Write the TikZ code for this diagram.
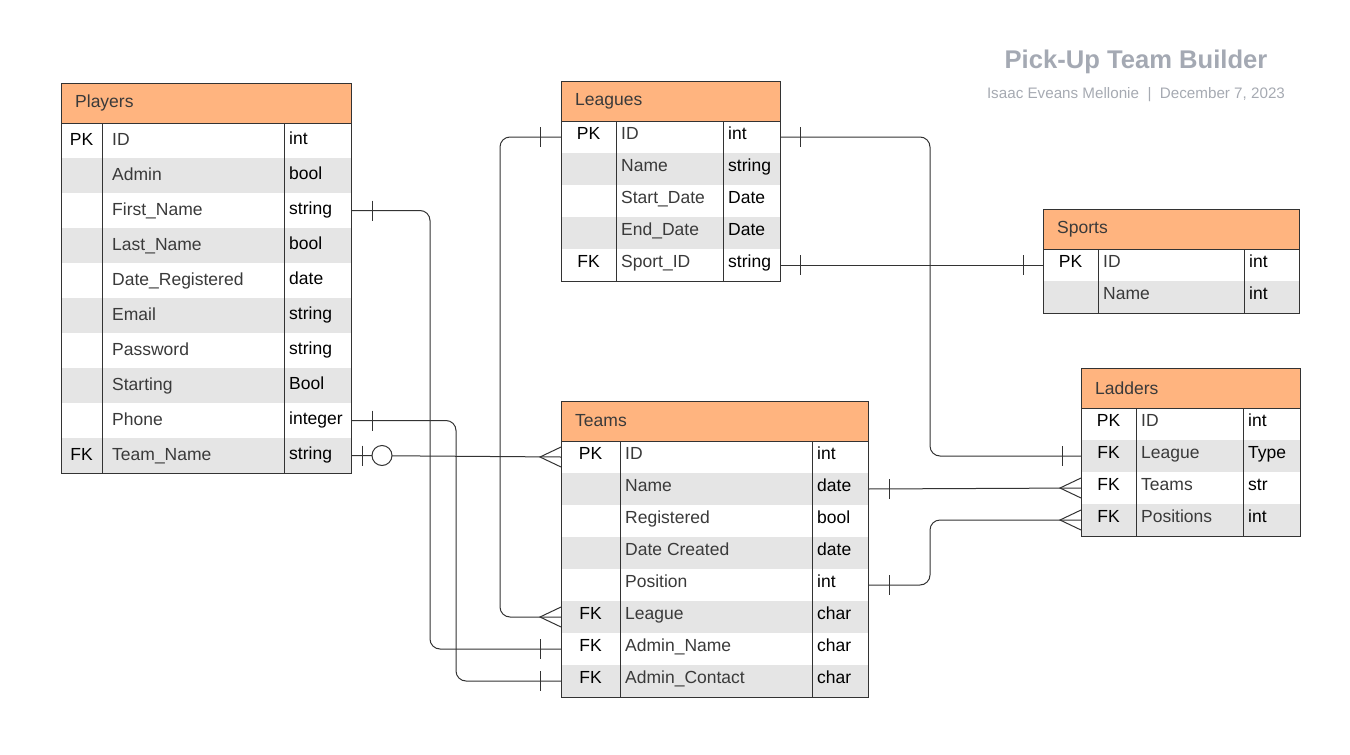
\documentclass[tikz,border=0pt]{standalone}
\usepackage{fontspec}
\setmainfont{Liberation Sans}
\usetikzlibrary{positioning}

\definecolor{hdrorange}{HTML}{FFB47F}
\definecolor{rowgray}{HTML}{E5E5E5}
\definecolor{titlegray}{HTML}{A4A9B3}
\definecolor{subgray}{HTML}{A6AAB2}
\definecolor{linegray}{HTML}{333333}
\definecolor{namegray}{HTML}{3A3A3A}

\tikzset{
  hdr/.style={rectangle, draw=linegray, line width=1pt, fill=hdrorange, anchor=north west, inner sep=0pt, outer sep=0pt},
  hdrtext/.style={anchor=west, text=namegray, inner sep=0pt, font=\fontsize{17.5}{20}\selectfont},
  row/.style={rectangle, anchor=north west, inner sep=0pt, outer sep=0pt, draw=none},
  cell/.style={inner sep=0pt, text height=13pt, text depth=3pt, font=\fontsize{17.5}{20}\selectfont},
  tbl/.style={draw=linegray, line width=1pt},
  conn/.style={draw=linegray, line width=1pt, rounded corners=10pt},
  onebar/.pic={\draw[linegray, line width=1pt] (0,-10) -- (0,10);},
  crowfoot/.pic={\draw[linegray, line width=1pt] (21,-10) -- (0,0) -- (21,10);},
  zeroring/.pic={\draw[linegray, line width=1pt, fill=white] (0,0) circle (10pt);}
}

\def\namepad{5}
\def\textlift{3}
\def\typelift{3}
% #1 name, #2 title, #3 x, #4 y, #5 key column, #6 type column, #7 width, #8 row height, #9 rows
\newcommand{\ertable}[9]{%
  \begin{scope}[shift={(#3,#4)}]
    \node[hdr, minimum width=#7, minimum height=40] (#1) at (0,0) {};
    \node[hdrtext] at (14,20) {#2};
    \foreach \k/\n/\t [count=\i] in {#9} {
      \ifodd\i \def\rf{white}\else \def\rf{rowgray}\fi
      \node[row, fill=\rf, minimum width=#7, minimum height=#8] (#1-\i) at (0,{40+(\i-1)*#8}) {};
      \node[cell] at ({#5/2},{40+(\i-0.5)*#8-\textlift}) {\k};
      \node[cell, anchor=west, text=namegray] at ({#5+\namepad},{40+(\i-0.5)*#8-\textlift}) {\n};
      \node[cell, anchor=west] at ({#6+5},{40+(\i-0.5)*#8-\typelift}) {\t};
      \xdef\nrows{\i}
    }
    \draw[tbl] (0,40) rectangle (#7,{40+\nrows*#8});
    \draw[tbl] (#5,40) -- (#5,{40+\nrows*#8});
    \draw[tbl] (#6,40) -- (#6,{40+\nrows*#8});
  \end{scope}}

\begin{document}
\begin{tikzpicture}[x=1pt, y=-1pt]
\useasboundingbox (0,0) rectangle (1350,755);

% Titolo
\node[font=\bfseries\fontsize{25.6}{30}\selectfont, text=titlegray] (title) at (1136,62) {Pick-Up Team Builder};
\node[font=\fontsize{15.2}{18}\selectfont, text=subgray] (byline) at (1136,95) {Isaac Eveans Mellonie\ \ |\ \ December 7, 2023};

% Tabella Players
\def\namepad{10}\def\textlift{0}\def\typelift{1.5}
\ertable{players}{Players}{61}{83}{41}{223}{290}{35}{PK/ID/int, /Admin/bool, /First\_Name/string, /Last\_Name/bool, /Date\_Registered/date, /Email/string, /Password/string, /Starting/Bool, /Phone/integer, FK/Team\_Name/string}
\def\namepad{5}\def\textlift{3}\def\typelift{3}

% Tabella Leagues
\ertable{leagues}{Leagues}{561}{81}{55}{162}{219}{32}{PK/ID/int, /Name/string, /Start\_Date/Date, /End\_Date/Date, FK/Sport\_ID/string}

% Tabella Sports
\ertable{sports}{Sports}{1043}{209}{55}{201}{256}{32}{PK/ID/int, /Name/int}

% Tabella Ladders
\ertable{ladders}{Ladders}{1081}{368}{55}{162}{219}{32}{PK/ID/int, FK/League/Type, FK/Teams/str, FK/Positions/int}

% Tabella Teams
\ertable{teams}{Teams}{561}{401}{59}{251}{307}{32}{PK/ID/int, /Name/date, /Registered/bool, /Date Created/date, /Position/int, FK/League/char, FK/Admin\_Name/char, FK/Admin\_Contact/char}

% Dorsali verticali
\coordinate (trunkA) at (430,0);
\coordinate (trunkB) at (456,0);
\coordinate (trunkC) at (500,0);
\coordinate (trunkD) at (930,0);

% Connessioni
\draw[conn] (players-3.east) -| (trunkA |- teams-7.west) -- (teams-7.west);
\draw[conn] (players-9.east) -| (trunkB |- teams-8.west) -- (teams-8.west);
\draw[conn] (players-10.east) -- (teams-1.west);
\draw[conn] (leagues-1.west) -| (trunkC |- teams-6.west) -- (teams-6.west);
\draw[conn] (leagues-1.east) -| (trunkD |- ladders-2.west) -- (ladders-2.west);
\draw[conn] (leagues-5.east) -- (sports-1.west);
\draw[conn] (teams-2.east) -- (ladders-3.west);
\draw[conn] (teams-5.east) -| (trunkD |- ladders-4.west) -- (ladders-4.west);

% Cardinalità
\pic at ([xshift=21pt]players-3.east) {onebar};
\pic at ([xshift=21pt]players-9.east) {onebar};
\pic at ([xshift=11pt]players-10.east) {onebar};
\pic at ([xshift=31pt]players-10.east) {zeroring};
\pic at ([xshift=-21pt]teams-1.west) {crowfoot};
\pic at ([xshift=-21pt]teams-6.west) {crowfoot};
\pic at ([xshift=-21pt]teams-7.west) {onebar};
\pic at ([xshift=-21pt]teams-8.west) {onebar};
\pic at ([xshift=21pt]teams-2.east) {onebar};
\pic at ([xshift=21pt]teams-5.east) {onebar};
\pic at ([xshift=-21pt]leagues-1.west) {onebar};
\pic at ([xshift=20pt]leagues-1.east) {onebar};
\pic at ([xshift=20pt]leagues-5.east) {onebar};
\pic at ([xshift=-20pt]sports-1.west) {onebar};
\pic at ([xshift=-19pt]ladders-2.west) {onebar};
\pic at ([xshift=-21pt]ladders-3.west) {crowfoot};
\pic at ([xshift=-21pt]ladders-4.west) {crowfoot};
\end{tikzpicture}
\end{document}
